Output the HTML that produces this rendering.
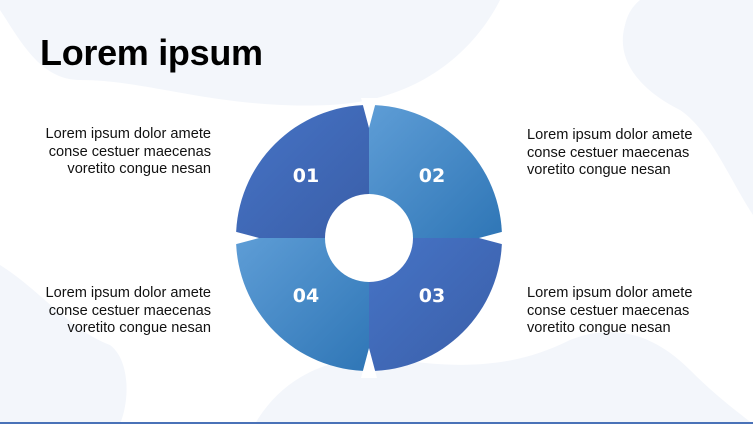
<!DOCTYPE html>
<html><head><meta charset="utf-8"><style>
html,body{margin:0;padding:0}
body{width:753px;height:424px;position:relative;overflow:hidden;background:#fff;font-family:"Liberation Sans",sans-serif}
.t{position:absolute;font-size:14.6px;line-height:17.5px;color:#111}
.l{right:542px;text-align:right}
.r{left:527px;text-align:left}
h1{position:absolute;left:40px;top:32px;margin:0;font-size:36px;font-weight:bold;color:#000;letter-spacing:-0.3px}
</style></head><body>
<svg width="753" height="424" style="position:absolute;left:0;top:0">
<defs>
<linearGradient id="d" x1="0" y1="0" x2="1" y2="1"><stop offset="0" stop-color="#4674c6"/><stop offset="1" stop-color="#3a5ea8"/></linearGradient>
<linearGradient id="lg" x1="0" y1="0" x2="1" y2="1"><stop offset="0" stop-color="#5e9dd6"/><stop offset="1" stop-color="#2f76b6"/></linearGradient>
</defs>
<g fill="#f3f6fb">
<path d="M0,0 L500,0 C480,40 430,100 330,105 C220,110 150,80 80,80 C40,80 20,40 0,10 Z"/>
<path d="M640,0 L753,0 L753,215 C730,180 710,130 680,110 C640,90 615,60 625,25 C628,12 634,5 640,0 Z"/>
<path d="M0,265 C40,290 70,330 110,345 C130,360 130,400 120,424 L0,424 Z"/>
<path d="M255,424 C280,380 330,350 400,360 C470,370 520,365 570,340 C620,320 660,340 690,370 C715,395 735,410 753,424 Z"/>
</g>
<rect x="0" y="422" width="753" height="2" fill="#4a72b8"/>
<g transform="translate(369,238)">
<path d="M0,0 L0,-133 A133,133 0 0 0 -133,0 Z" fill="url(#d)"/>
<path d="M0,0 L133,0 A133,133 0 0 0 0,-133 Z" fill="url(#lg)"/>
<path d="M0,0 L0,133 A133,133 0 0 0 133,0 Z" fill="url(#d)"/>
<path d="M0,0 L-133,0 A133,133 0 0 0 0,133 Z" fill="url(#lg)"/>
<circle r="44" fill="#fff"/>
<g fill="#fff">
<path d="M-8,-140 L8,-140 L0,-110 Z"/>
<path d="M-8,140 L8,140 L0,110 Z"/>
<path d="M140,-8 L140,8 L110,0 Z"/>
<path d="M-140,-8 L-140,8 L-110,0 Z"/>
</g>
<g fill="#fff" font-family="DejaVu Sans,sans-serif" font-weight="bold" font-size="19" text-anchor="middle">
<text x="-63" y="-56">01</text>
<text x="63" y="-56">02</text>
<text x="63" y="64">03</text>
<text x="-63" y="64">04</text>
</g>
</g>
</svg>
<h1>Lorem ipsum</h1>
<div class="t l" style="top:126px">Lorem ipsum dolor amete<br>conse cestuer maecenas<br>voretito congue nesan</div>
<div class="t r" style="top:127px">Lorem ipsum dolor amete<br>conse cestuer maecenas<br>voretito congue nesan</div>
<div class="t l" style="top:285px">Lorem ipsum dolor amete<br>conse cestuer maecenas<br>voretito congue nesan</div>
<div class="t r" style="top:285px">Lorem ipsum dolor amete<br>conse cestuer maecenas<br>voretito congue nesan</div>
</body></html>
